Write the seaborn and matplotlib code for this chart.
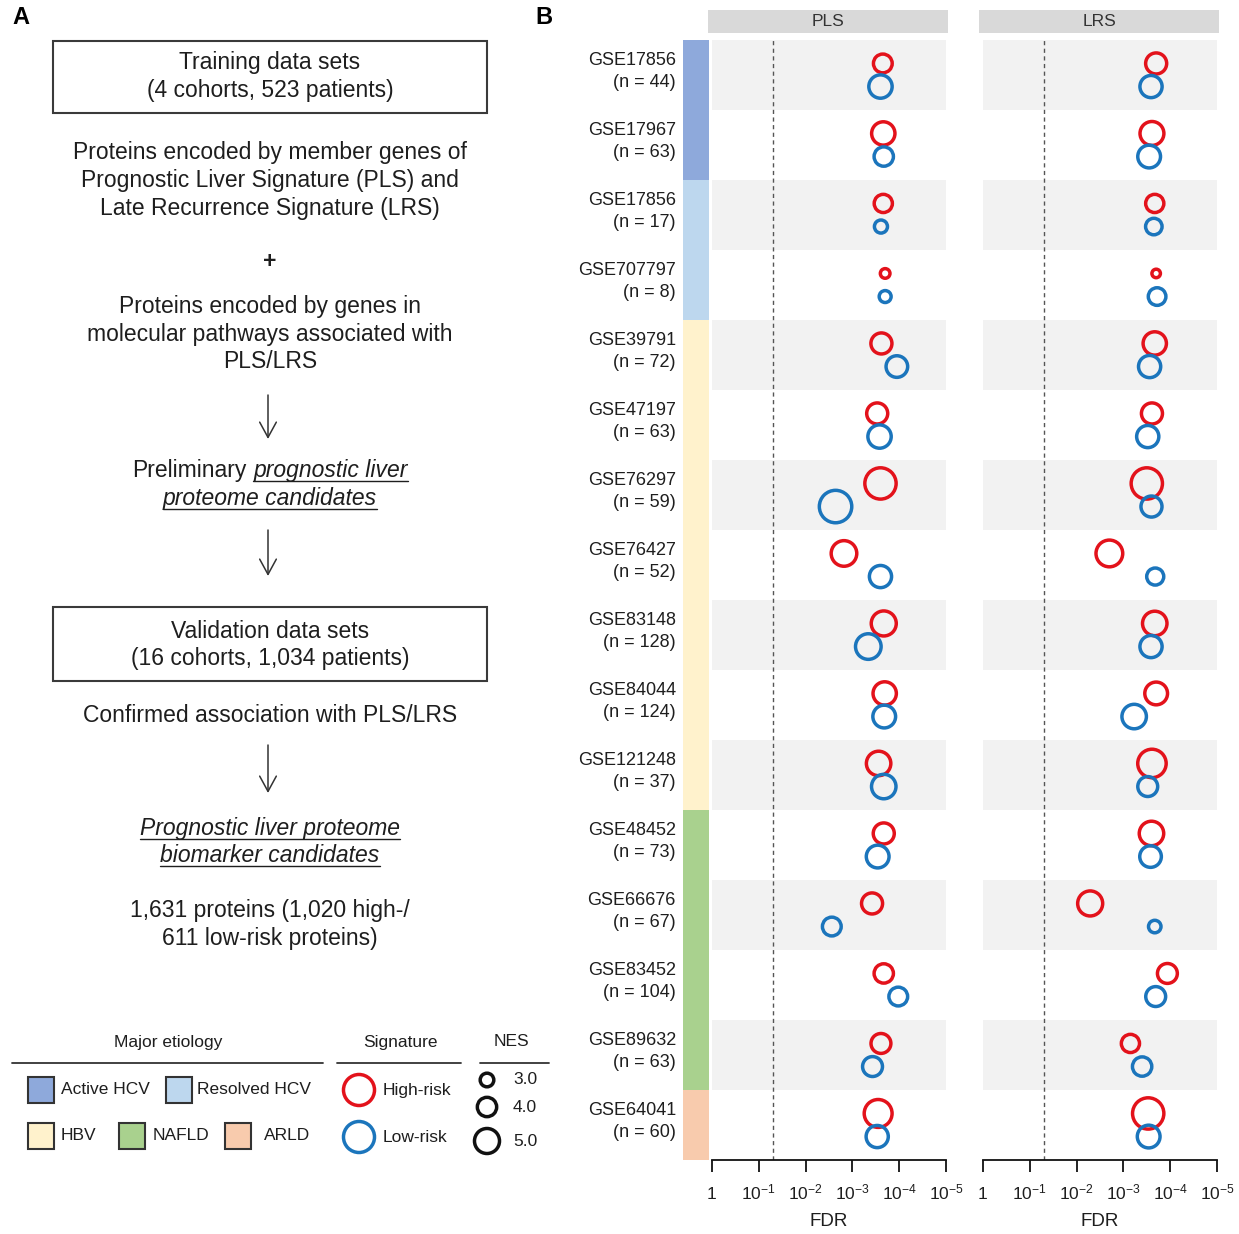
import numpy as np
import pandas as pd
import matplotlib
matplotlib.use("Agg")
import matplotlib.pyplot as plt
from matplotlib.patches import Rectangle
from matplotlib.transforms import blended_transform_factory
import seaborn as sns

# ---------------- data ----------------
cohorts = ["GSE17856", "GSE17967", "GSE17856", "GSE707797", "GSE39791", "GSE47197",
           "GSE76297", "GSE76427", "GSE83148", "GSE84044", "GSE121248", "GSE48452",
           "GSE66676", "GSE83452", "GSE89632", "GSE64041"]
cohort_n = [44, 63, 17, 8, 72, 63, 59, 52, 128, 124, 37, 73, 67, 104, 63, 60]
etiology = ["Active HCV", "Active HCV", "Resolved HCV", "Resolved HCV",
            "HBV", "HBV", "HBV", "HBV", "HBV", "HBV", "HBV",
            "NAFLD", "NAFLD", "NAFLD", "NAFLD", "ARLD"]

# -log10(FDR) per cohort
pls_high_mlogfdr = [3.65, 3.66, 3.66, 3.70, 3.62, 3.53, 3.60, 2.82, 3.67, 3.69, 3.56, 3.67, 3.42, 3.67, 3.61, 3.55]
pls_low_mlogfdr = [3.60, 3.67, 3.61, 3.70, 3.95, 3.58, 2.64, 3.60, 3.34, 3.68, 3.67, 3.54, 2.56, 3.98, 3.43, 3.53]
lrs_high_mlogfdr = [3.70, 3.61, 3.67, 3.70, 3.67, 3.61, 3.50, 2.70, 3.67, 3.70, 3.61, 3.60, 2.29, 3.94, 3.15, 3.53]
lrs_low_mlogfdr = [3.59, 3.55, 3.65, 3.72, 3.56, 3.52, 3.60, 3.68, 3.59, 3.23, 3.52, 3.58, 3.67, 3.69, 3.40, 3.54]

# normalized enrichment scores
pls_high_nes = [3.9, 4.7, 3.8, 2.3, 4.3, 4.3, 6.1, 5.1, 5.0, 4.7, 4.9, 4.3, 4.3, 4.0, 4.1, 5.5]
pls_low_nes = [4.7, 4.0, 2.9, 2.7, 4.4, 4.7, 6.3, 4.5, 5.1, 4.6, 4.9, 4.6, 3.9, 3.9, 4.1, 4.5]
lrs_high_nes = [4.3, 4.8, 3.8, 2.1, 4.7, 4.3, 6.1, 5.3, 4.9, 4.6, 5.6, 4.9, 5.0, 4.1, 3.8, 6.1]
lrs_low_nes = [4.5, 4.6, 3.5, 3.7, 4.5, 4.5, 4.3, 3.6, 4.5, 4.9, 4.1, 4.4, 2.8, 4.1, 4.0, 4.6]

fdr_cutoff = 0.05
tick_labels = ["1", "$10^{-1}$", "$10^{-2}$", "$10^{-3}$", "$10^{-4}$", "$10^{-5}$"]
etiology_levels = ["Active HCV", "Resolved HCV", "HBV", "NAFLD", "ARLD"]

# ---------------- styling ----------------
sns.set_theme(style="white")
plt.rcParams["font.family"] = ["Liberation Sans", "DejaVu Sans"]
plt.rcParams["mathtext.default"] = "regular"

TXT = "#1e1e1e"
RED = "#E3121B"
BLUE = "#1B75BC"
BAND = "#F2F2F2"
STRIP = "#D9D9D9"
eti_colors = {"Active HCV": "#8EA9DB", "Resolved HCV": "#BDD7EE", "HBV": "#FFF2CC",
              "NAFLD": "#A9D18E", "ARLD": "#F8CBAD"}
risk_colors = {"High-risk": RED, "Low-risk": BLUE}

W, H = 1239, 1234
DPI = 100
PX2PT = 72 / DPI
RING_LW = 2.5                      # ring stroke, points
RING_LW_PX = RING_LW / PX2PT


def ring_area(outer_px):
    """Marker area (pt^2) for a ring whose outer diameter is outer_px pixels."""
    return ((outer_px - RING_LW_PX) * PX2PT) ** 2


def nes_area(nes):
    return ring_area(5.7 * nes)


fig = plt.figure(figsize=(W / DPI, H / DPI), dpi=DPI)


def axrect(x0, y0, x1, y1):
    return [x0 / W, 1 - y1 / H, (x1 - x0) / W, (y1 - y0) / H]


# pixel-space canvas for panel A, headers and legend
canvas = fig.add_axes([0, 0, 1, 1])
canvas.set_xlim(0, W)
canvas.set_ylim(H, 0)
canvas.axis("off")

# ---------------- long table ----------------
records = []
for sig, hx, lx, hs, ls in [("PLS", pls_high_mlogfdr, pls_low_mlogfdr, pls_high_nes, pls_low_nes),
                            ("LRS", lrs_high_mlogfdr, lrs_low_mlogfdr, lrs_high_nes, lrs_low_nes)]:
    for risk, xs, ss in [("High-risk", hx, hs), ("Low-risk", lx, ls)]:
        for i, (xv, sv) in enumerate(zip(xs, ss)):
            records.append(dict(signature=sig, risk=risk, cohort=i, mlogfdr=xv, nes=sv))
df = pd.DataFrame(records)
df["ypos"] = df["cohort"] + df["risk"].map({"High-risk": -0.165, "Low-risk": 0.165})
size_map = {v: nes_area(v) for v in df["nes"].unique()}
n_rows = len(cohorts)

# ---------------- panel B ----------------
top, bottom = 40, 1160
ax_pls = fig.add_axes(axrect(712, top, 946, bottom))
ax_lrs = fig.add_axes(axrect(983, top, 1217, bottom))
ax_strip = fig.add_axes(axrect(683, top, 709, bottom))

for ax, sig in [(ax_pls, "PLS"), (ax_lrs, "LRS")]:
    for i in range(0, n_rows, 2):
        ax.axhspan(i - 0.5, i + 0.5, color=BAND, lw=0, zorder=0)
    ax.axvline(-np.log10(fdr_cutoff), color="#555555", ls=(0, (3, 2.5)), lw=1.0, zorder=1)
    for risk in ["High-risk", "Low-risk"]:
        sub = df[(df["signature"] == sig) & (df["risk"] == risk)]
        c = risk_colors[risk]
        sns.scatterplot(data=sub, x="mlogfdr", y="ypos", size="nes", sizes=size_map,
                        color=c, facecolor="none", edgecolor=c, linewidth=RING_LW,
                        legend=False, ax=ax, zorder=3, clip_on=False)
    ax.set_xlim(0, 5)
    ax.set_ylim(n_rows - 0.5, -0.5)
    ax.set_xlabel("")
    ax.set_ylabel("")
    ax.set_yticks([])
    for s in ["left", "right", "top"]:
        ax.spines[s].set_visible(False)
    ax.spines["bottom"].set_color("#111111")
    ax.spines["bottom"].set_linewidth(1.3)
    ax.set_xticks(range(6))
    ax.tick_params(axis="x", bottom=True, direction="out", length=8.6, width=1.3,
                   color="#111111", pad=19.5, labelsize=12.5, labelcolor=TXT)
    ax.set_xticklabels(tick_labels, va="baseline")
    ax.patch.set_alpha(0)

    # header strip
    x0 = ax.get_position().x0 * W - 4
    x1 = ax.get_position().x1 * W + 2
    canvas.add_patch(Rectangle((x0, 10), x1 - x0, 23, fc=STRIP, ec="none"))
    canvas.text((x0 + x1) / 2, 21.5, sig, ha="center", va="center", fontsize=12.5, color="#333333")
    canvas.text((x0 + x1) / 2 + 1, 1222, "FDR", ha="center", va="center", fontsize=13.5, color=TXT)

# etiology strip with cohort labels
ax_strip.barh(range(n_rows), 1, height=1.0, left=0,
              color=[eti_colors[e] for e in etiology], edgecolor="none")
ax_strip.set_xlim(0, 1)
ax_strip.set_ylim(n_rows - 0.5, -0.5)
ax_strip.axis("off")
lab_tr = blended_transform_factory(ax_strip.transAxes, ax_strip.transData)
for i, (c, n) in enumerate(zip(cohorts, cohort_n)):
    ax_strip.text(-0.27, i - 0.05, f"{c}\n(n = {n})", transform=lab_tr, ha="right",
                  va="center", fontsize=13, color=TXT, linespacing=1.42, multialignment="right")

# panel letters
canvas.text(21, 18, "A", ha="center", va="center", fontsize=17, fontweight="bold", color="#000")
canvas.text(544, 18, "B", ha="center", va="center", fontsize=17, fontweight="bold", color="#000")

# ---------------- panel A: workflow ----------------
FS = 16.5
CX = 270
renderer = fig.canvas.get_renderer()


def center_text(y, s, **kw):
    canvas.text(CX, y, s, ha="center", va="center", fontsize=FS, color=TXT, **kw)


def text_width(s, style):
    t = canvas.text(0, 0, s, fontsize=FS, style=style)
    w = t.get_window_extent(renderer).width
    t.remove()
    return w


def mixed_line(y_base, parts):
    """parts: list of (text, emphasised) pieces joined by single spaces."""
    gap = text_width("x x", "normal") - text_width("xx", "normal")
    widths = [text_width(s, "italic" if em else "normal") for s, em in parts]
    total = sum(widths) + gap * (len(parts) - 1)
    x = CX - total / 2
    for (s, em), w in zip(parts, widths):
        canvas.text(x, y_base, s, ha="left", va="baseline", fontsize=FS, color=TXT,
                    style="italic" if em else "normal")
        if em:
            canvas.plot([x, x + w], [y_base + 3.5, y_base + 3.5], color=TXT, lw=1.0)
        x += w + gap


def arrow(y0, y1):
    canvas.annotate("", xy=(268, y1), xytext=(268, y0),
                    arrowprops=dict(arrowstyle="->,head_length=0.55,head_width=0.3",
                                    lw=1.1, color="#333333", mutation_scale=20,
                                    shrinkA=0, shrinkB=0))


canvas.add_patch(Rectangle((53, 41), 434, 72, fc="none", ec="#3a3a3a", lw=1.5))
center_text(63, "Training data sets")
center_text(91, "(4 cohorts, 523 patients)")
center_text(153, "Proteins encoded by member genes of")
center_text(181, "Prognostic Liver Signature (PLS) and")
center_text(209, "Late Recurrence Signature (LRS)")
center_text(262, "+", fontweight="bold")
center_text(307, "Proteins encoded by genes in")
center_text(335, "molecular pathways associated with")
center_text(362, "PLS/LRS")
arrow(395, 439)
mixed_line(477, [("Preliminary", False), ("prognostic liver", True)])
mixed_line(505, [("proteome candidates", True)])
arrow(530, 576)
canvas.add_patch(Rectangle((53, 607), 434, 74, fc="none", ec="#3a3a3a", lw=1.5))
center_text(631, "Validation data sets")
center_text(658, "(16 cohorts, 1,034 patients)")
center_text(715, "Confirmed association with PLS/LRS")
arrow(745, 793)
mixed_line(835, [("Prognostic liver proteome", True)])
mixed_line(862, [("biomarker candidates", True)])
center_text(911, "1,631 proteins (1,020 high-/")
center_text(938, "611 low-risk proteins)")

# ---------------- legend ----------------
LFS = 12.5
for title, x, (l0, l1) in [("Major etiology", 168, (12, 323)), ("Signature", 400, (337, 461)),
                           ("NES", 511, (480, 549))]:
    canvas.text(x, 1042, title, ha="center", va="center", fontsize=LFS, color=TXT)
    canvas.plot([l0, l1], [1063, 1063], color="#333333", lw=1.3)

sw_pos = {"Active HCV": (28, 1090, 61), "Resolved HCV": (166, 1090, 197),
          "HBV": (28, 1136, 61), "NAFLD": (119, 1136, 153), "ARLD": (225, 1136, 264)}
for lvl in etiology_levels:
    sx, sy, tx = sw_pos[lvl]
    canvas.add_patch(Rectangle((sx, sy - 13), 26, 26, fc=eti_colors[lvl], ec="#333333", lw=1.5))
    canvas.text(tx, sy, lvl, ha="left", va="center", fontsize=LFS, color=TXT)

for risk, y in [("High-risk", 1090), ("Low-risk", 1137)]:
    canvas.scatter([359], [y], s=ring_area(34.5), facecolors="none",
                   edgecolors=risk_colors[risk], linewidths=RING_LW)
    canvas.text(383, y, risk, ha="left", va="center", fontsize=LFS, color=TXT)

for val, y in [(3.0, 1080), (4.0, 1107), (5.0, 1141)]:
    canvas.scatter([487], [y], s=nes_area(val), facecolors="none", edgecolors="#111111",
                   linewidths=RING_LW)
    canvas.text(513, y, f"{val:.1f}", ha="left", va="center", fontsize=LFS, color=TXT)

fig.savefig("out.png", dpi=DPI)
